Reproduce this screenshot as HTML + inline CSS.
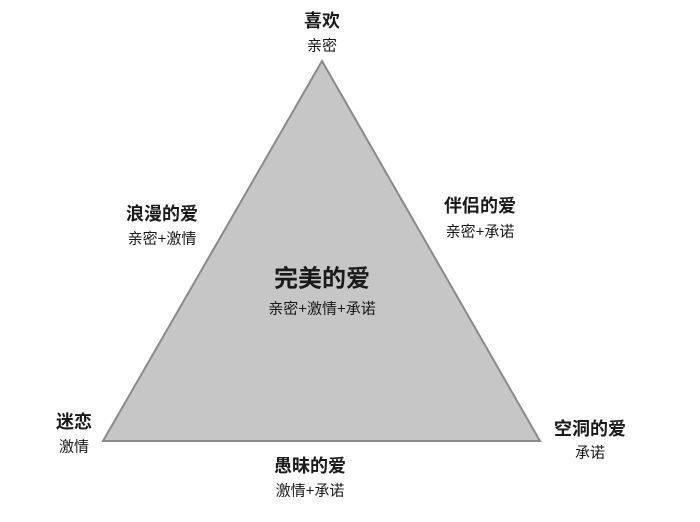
<!DOCTYPE html>
<html><head><meta charset="utf-8"><style>
body{margin:0;background:#fff;}
.w{position:relative;width:700px;height:522px;overflow:hidden;font-family:"Liberation Sans","Noto Sans CJK SC",sans-serif;color:#1a1a1a;}
.t{position:absolute;transform:translate(-50%,-50%);white-space:nowrap;}
.b{font-weight:bold;font-size:18px;}
.s{font-size:15px;}
</style></head><body><div class="w">
<svg width="700" height="522" style="position:absolute;left:0;top:0">
<polygon points="322,61 103,441 540,441" fill="#c6c6c6" stroke="#8a8a8a" stroke-width="2"/>
</svg>
<div class="t b" style="left:322px;top:20px">喜欢</div>
<div class="t s" style="left:322px;top:45px">亲密</div>
<div class="t b" style="left:162px;top:213px">浪漫的爱</div>
<div class="t s" style="left:162px;top:238px">亲密+激情</div>
<div class="t b" style="left:480px;top:205px">伴侣的爱</div>
<div class="t s" style="left:480px;top:231px">亲密+承诺</div>
<div class="t" style="left:322px;top:276px;font-size:24px;font-weight:bold">完美的爱</div>
<div class="t s" style="left:322px;top:308px">亲密+激情+承诺</div>
<div class="t b" style="left:74px;top:421px">迷恋</div>
<div class="t s" style="left:74px;top:446px">激情</div>
<div class="t b" style="left:590px;top:428px">空洞的爱</div>
<div class="t s" style="left:590px;top:452px">承诺</div>
<div class="t b" style="left:310px;top:465px">愚昧的爱</div>
<div class="t s" style="left:310px;top:490px">激情+承诺</div>
</div></body></html>
